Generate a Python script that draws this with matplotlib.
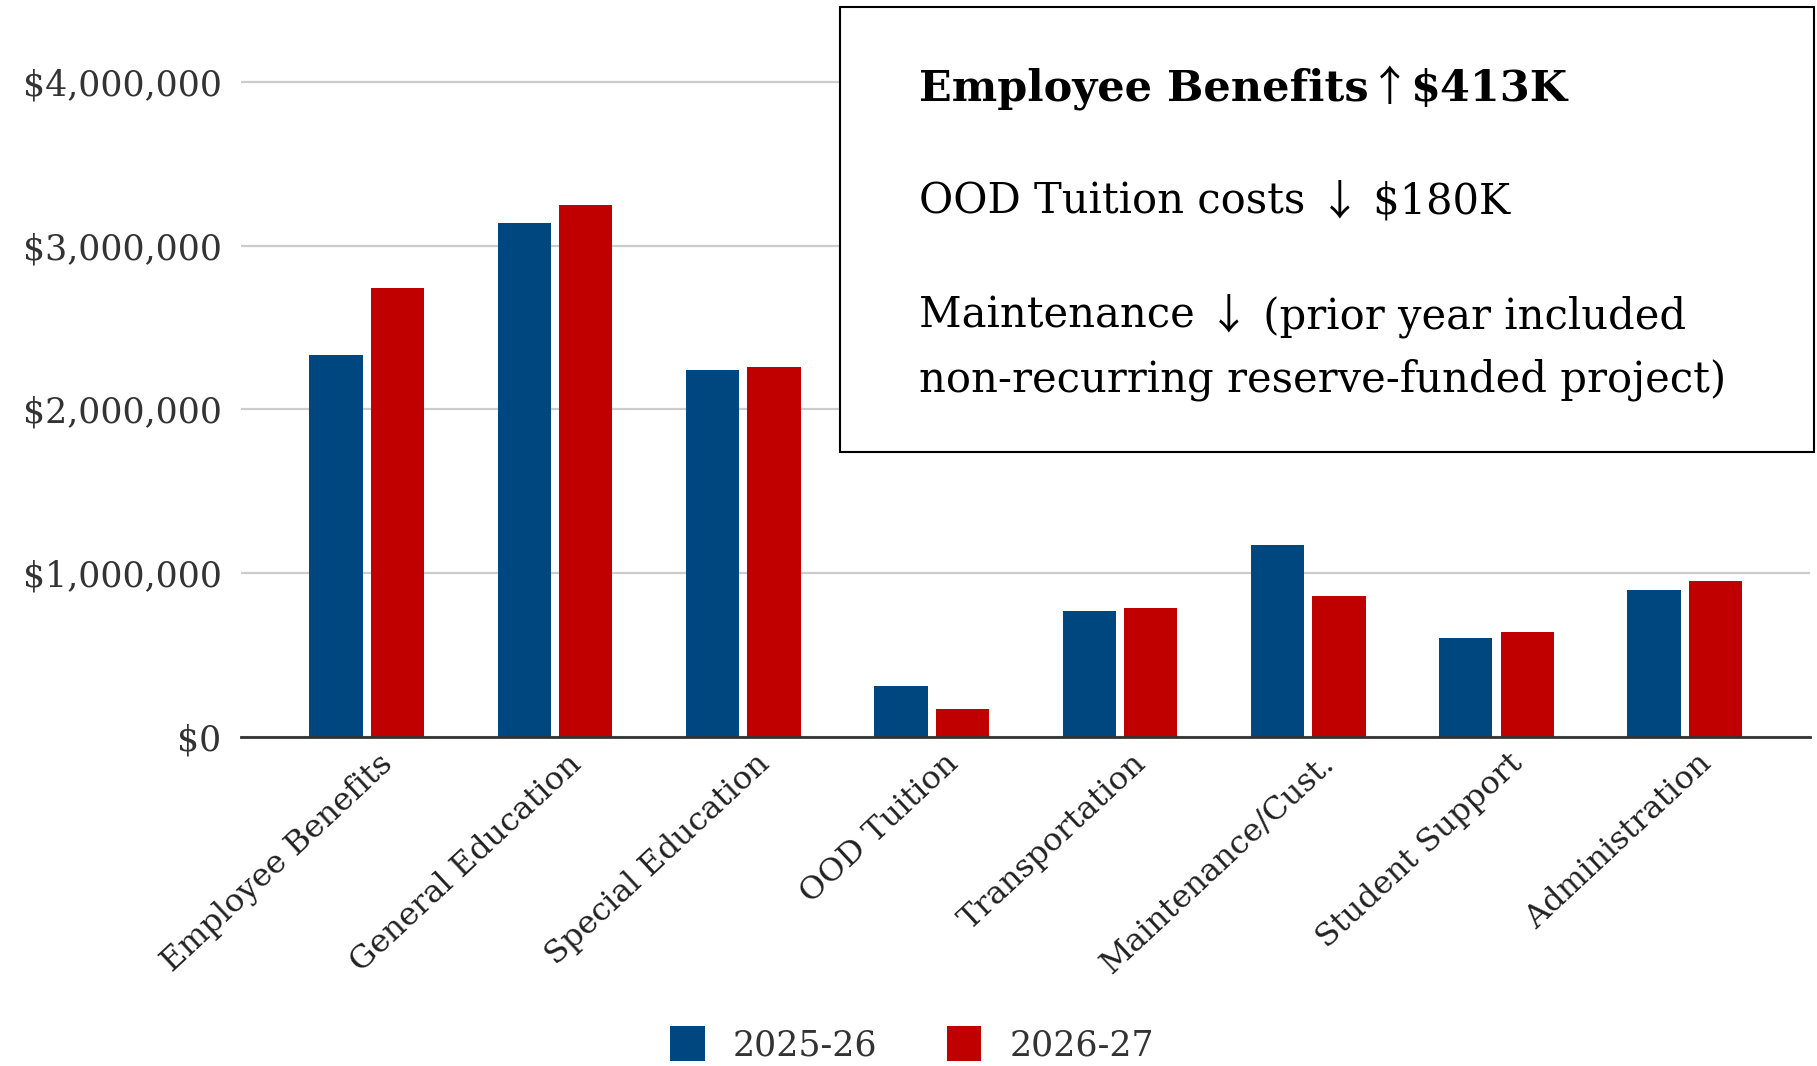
import matplotlib
matplotlib.use('Agg')
import matplotlib.pyplot as plt
import matplotlib.patches as mpatches
from matplotlib.ticker import FuncFormatter
import numpy as np

categories = ['Employee Benefits', 'General Education', 'Special Education', 'OOD Tuition',
              'Transportation', 'Maintenance/Cust.', 'Student Support', 'Administration']
fy2026 = [2331000, 3140000, 2242000, 314000, 771000, 1172000, 607000, 899000]
fy2027 = [2741000, 3250000, 2259000, 170000, 789000, 860000, 642000, 953000]
series_labels = ['2025-26', '2026-27']
yticks = [0, 1000000, 2000000, 3000000, 4000000]

# callout lines, split so the arrows can use their own font
notes = [
    [('Employee Benefits', 'bold'), ('\u2191', 'arrow'), ('$413K', 'bold')],
    [('OOD Tuition costs ', 'normal'), ('\u2193', 'arrow'), (' $180K', 'normal')],
    [('Maintenance ', 'normal'), ('\u2193', 'arrow'), (' (prior year included', 'normal')],
    [('non-recurring reserve-funded project)', 'normal')],
]

BLUE = '#00467f'
RED = '#c00000'
serif = ['DejaVu Serif', 'DejaVu Sans']

W, H = 1817, 1066
fig = plt.figure(figsize=(W / 100, H / 100), dpi=100)
ax = fig.add_axes([241 / W, 1 - 737 / H, (1810 - 241) / W, 737 / H])

x = np.arange(len(categories))
width = 0.283
off = 0.163
b1 = ax.bar(x - off, fy2026, width, color=BLUE, label=series_labels[0], zorder=3)
b2 = ax.bar(x + off, fy2027, width, color=RED, label=series_labels[1], zorder=3)

ax.set_xlim(-0.668, len(categories) - 1 + 0.665)
ax.set_ylim(0, 4500000)
ax.set_yticks(yticks)
ax.yaxis.set_major_formatter(FuncFormatter(lambda v, p: '${:,.0f}'.format(v)))
ax.grid(axis='y', color='#cccccc', linewidth=1.6, zorder=0)
for s in ['top', 'right', 'left']:
    ax.spines[s].set_visible(False)
ax.spines['bottom'].set_color('#333333')
ax.spines['bottom'].set_linewidth(2.0)
ax.spines['bottom'].set_zorder(4)
ax.tick_params(axis='y', length=0, pad=14, labelsize=25, labelcolor='#333333')
ax.tick_params(axis='x', length=0, pad=8)
for lab in ax.get_yticklabels():
    lab.set_family(serif)

ax.set_xticks(x + 0.06)
ax.set_xticklabels(categories, rotation=43, ha='right', rotation_mode='anchor',
                   family=serif, fontsize=23, color='#222222')

leg = fig.legend(handles=[b1, b2], labels=series_labels, loc='center',
                 bbox_to_anchor=(912 / W, 1 - 1044 / H), ncol=2, frameon=False,
                 prop={'family': serif, 'size': 25}, handlelength=1.0, handleheight=1.2,
                 columnspacing=2.0, handletextpad=0.8)
for t in leg.get_texts():
    t.set_color('#333333')

# callout box
box = mpatches.Rectangle((840 / W, 1 - 452 / H), (1814 - 840) / W, (452 - 7) / H,
                         transform=fig.transFigure, facecolor='white', edgecolor='black',
                         linewidth=1.5, zorder=5)
fig.patches.append(box)

styles = {
    'bold': dict(family=serif, fontsize=31, fontweight='bold'),
    'normal': dict(family=serif, fontsize=30),
    'arrow': dict(family=['Noto Sans CJK JP', 'DejaVu Sans'], fontsize=30),
}
renderer = fig.canvas.get_renderer()
baselines = [101, 214, 328, 392]
for segs, yb in zip(notes, baselines):
    xpos = 919
    for txt, kind in segs:
        t = fig.text(xpos / W, 1 - yb / H, txt, ha='left', va='baseline', color='black',
                     zorder=6, **styles[kind])
        xpos = t.get_window_extent(renderer).x1

plt.savefig('out.png', dpi=100)
